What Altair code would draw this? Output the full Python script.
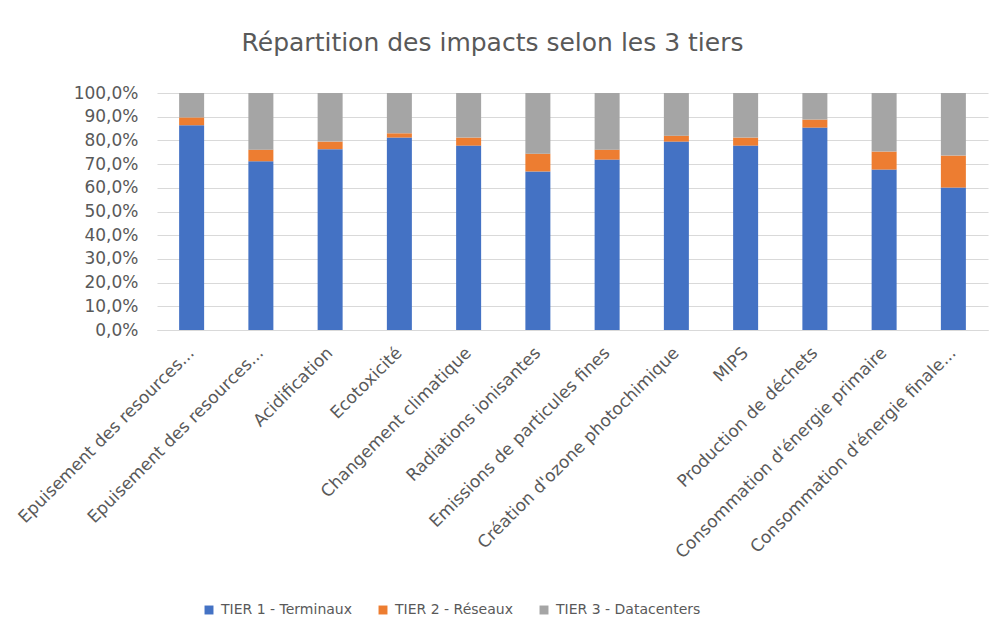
import altair as alt
import pandas as pd

categories = [
    "Epuisement des resources...",
    "Epuisement des resources... ",
    "Acidification",
    "Ecotoxicité",
    "Changement climatique",
    "Radiations ionisantes",
    "Emissions de particules fines",
    "Création d'ozone photochimique",
    "MIPS",
    "Production de déchets",
    "Consommation d'énergie primaire",
    "Consommation d'énergie finale...",
]
tier1 = [86.4, 71.2, 76.3, 81.2, 77.8, 66.9, 71.9, 79.5, 77.8, 85.4, 67.7, 60.1]
tier2 = [3.3, 4.9, 3.2, 1.8, 3.4, 7.5, 4.2, 2.5, 3.4, 3.4, 7.6, 13.5]
series = ["TIER 1 - Terminaux", "TIER 2 - Réseaux", "TIER 3 - Datacenters"]
colors = ["#4472C4", "#ED7D31", "#A5A5A5"]

rows = []
for i, c in enumerate(categories):
    t1 = tier1[i] / 100
    t2 = tier2[i] / 100
    t3 = 1 - t1 - t2
    for k, v in enumerate([t1, t2, t3]):
        rows.append({"cat": c, "serie": series[k], "val": v, "ord": k})
df = pd.DataFrame(rows)

FONT = "DejaVu Sans"
GREY = "#595959"

chart = (
    alt.Chart(df)
    .mark_bar(size=25)
    .encode(
        x=alt.X(
            "cat:N",
            sort=categories,
            scale=alt.Scale(paddingInner=0.64, paddingOuter=0.32),
            axis=alt.Axis(
                title=None,
                labelAngle=315,
                labelAlign="right",
                labelBaseline="middle",
                labelFont=FONT,
                labelFontSize=17,
                labelColor=GREY,
                labelPadding=20,
                ticks=False,
                domainColor="#d9d9d9",
                labelLimit=400,
            ),
        ),
        y=alt.Y(
            "val:Q",
            stack="zero",
            scale=alt.Scale(domain=[0, 1]),
            axis=alt.Axis(
                title=None,
                values=[i / 10 for i in range(11)],
                labelExpr="replace(format(datum.value, '.1%'), '.', ',')",
                labelFont=FONT,
                labelFontSize=17,
                labelColor=GREY,
                labelPadding=19,
                ticks=False,
                domain=False,
                gridColor="#d9d9d9",
                gridWidth=1,
            ),
        ),
        color=alt.Color(
            "serie:N",
            sort=series,
            scale=alt.Scale(domain=series, range=colors),
            legend=alt.Legend(
                title=None,
                orient="none",
                direction="horizontal",
                legendX=45,
                legendY=510,
                symbolType="square",
                symbolSize=80,
                symbolStrokeWidth=0,
                labelFont=FONT,
                labelFontSize=14,
                labelColor=GREY,
                columnPadding=24,
                labelOffset=5,
            ),
        ),
        order=alt.Order("ord:Q"),
    )
    .properties(
        width=831,
        height=237,
        autosize=alt.AutoSizeParams(type="none"),
        padding={"left": 149, "top": 85, "right": 5, "bottom": 290},
        title=alt.TitleParams(
            "Répartition des impacts selon les 3 tiers",
            font=FONT,
            fontSize=25,
            fontWeight="normal",
            color=GREY,
            anchor="middle",
            dx=-80,
            offset=28,
        ),
    )
    .configure_view(stroke=None)
)

chart.save("out.html", embed_options={"renderer": "svg", "actions": False})
